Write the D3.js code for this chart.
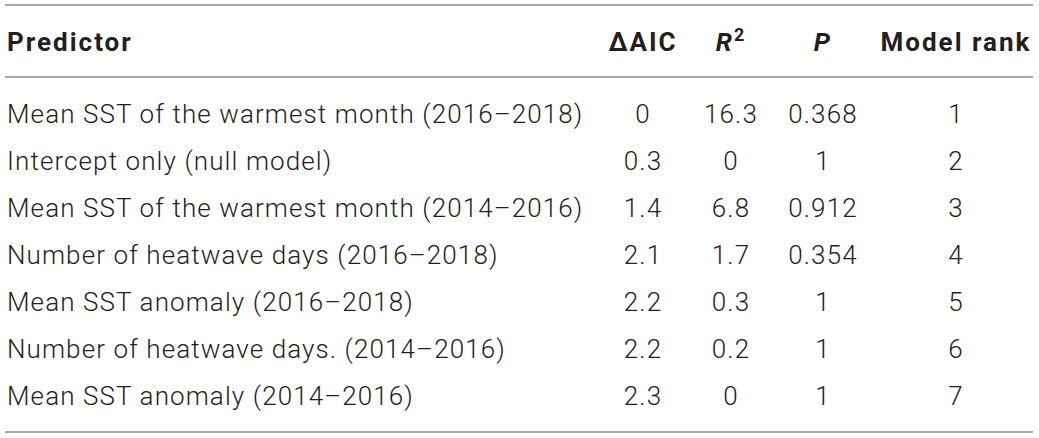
<!DOCTYPE html>
<html>
<head>
<meta charset="utf-8">
<title>Model selection</title>
<style>
    body { margin: 0; background: #fff; }
    svg text { font-family: Roboto, "Liberation Sans", sans-serif; fill: #231f20; }
    .head { font-weight: 700; letter-spacing: 2px; }
    .cell { font-weight: 300; letter-spacing: 1.1px; }
</style>
</head>
<body>
<svg width="1039" height="438"></svg>
<script src="https://d3js.org/d3.v7.min.js"></script>
<script>

    var predictors = [
        "Mean SST of the warmest month (2016\u20132018)",
        "Intercept only (null model)",
        "Mean SST of the warmest month (2014\u20132016)",
        "Number of heatwave days (2016\u20132018)",
        "Mean SST anomaly (2016\u20132018)",
        "Number of heatwave days. (2014\u20132016)",
        "Mean SST anomaly (2014\u20132016)"
    ];
    var deltaAIC = ["0", "0.3", "1.4", "2.1", "2.2", "2.2", "2.3"];
    var rSquared = ["16.3", "0", "6.8", "1.7", "0.3", "0.2", "0"];
    var pValues = ["0.368", "1", "0.912", "0.354", "1", "1", "1"];
    var modelRank = ["1", "2", "3", "4", "5", "6", "7"];

    var columns = ["predictor", "daic", "r2", "p", "rank"];

    var svg = d3.select("svg"),
        fontSize = 26;

    // column anchors: first column left aligned, others centred
    var colX = d3.scaleOrdinal()
        .domain(columns)
        .range([7, 643, 731, 823, 956]);

    var rowY = d3.scalePoint()
        .domain(d3.range(predictors.length))
        .range([123, 405]);

    var rows = predictors.map(function (d, i) {
        return [d, deltaAIC[i], rSquared[i], pValues[i], modelRank[i]];
    });

    // rules
    svg.append("g")
        .selectAll("line")
        .data([5, 77, 432])
        .enter().append("line")
        .attr("x1", 5)
        .attr("x2", 1033)
        .attr("y1", function (d) { return d; })
        .attr("y2", function (d) { return d; })
        .attr("stroke", "#a7a9ac")
        .attr("stroke-width", 2);

    // header
    var head = svg.append("g")
        .attr("class", "head")
        .attr("font-size", fontSize);

    head.append("text").attr("x", colX("predictor")).attr("y", 51).text("Predictor");
    head.append("text").attr("x", colX("daic")).attr("y", 51)
        .attr("text-anchor", "middle").text("\u0394AIC");
    var r2 = head.append("text").attr("x", colX("r2")).attr("y", 51)
        .attr("text-anchor", "middle");
    r2.append("tspan").attr("font-style", "italic").text("R");
    r2.append("tspan").attr("font-size", 18).attr("dy", -10).text("2");
    head.append("text").attr("x", colX("p")).attr("y", 51)
        .attr("text-anchor", "middle").attr("font-style", "italic").text("P");
    head.append("text").attr("x", colX("rank")).attr("y", 51)
        .attr("text-anchor", "middle").text("Model rank");

    // body
    var body = svg.append("g")
        .attr("class", "cell")
        .attr("font-size", fontSize);

    var row = body.selectAll("g")
        .data(rows)
        .enter().append("g")
        .attr("transform", function (d, i) {
            return "translate(0," + rowY(i) + ")";
        });

    row.selectAll("text")
        .data(function (d) { return d; })
        .enter().append("text")
        .attr("x", function (d, j) { return colX(columns[j]); })
        .attr("text-anchor", function (d, j) { return j === 0 ? "start" : "middle"; })
        .text(function (d) { return d; });

</script>
</body>
</html>
